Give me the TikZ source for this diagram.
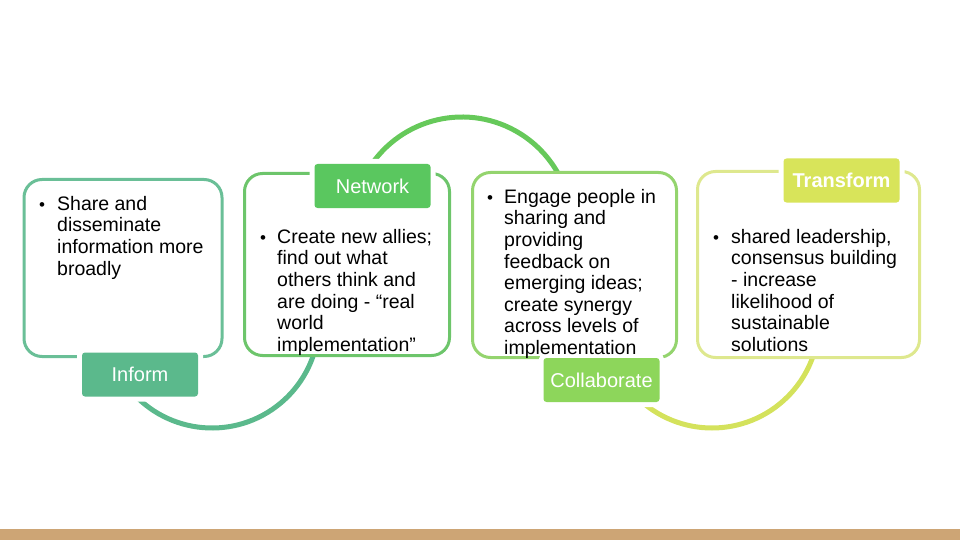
\documentclass[tikz,border=0pt]{standalone}
\usepackage{fontspec}
\setmainfont{Liberation Sans}
\definecolor{cA}{HTML}{5BB98C}
\definecolor{cAb}{HTML}{6ABF97}
\definecolor{cB}{HTML}{5AC75F}
\definecolor{cBb}{HTML}{6DC56B}
\definecolor{cBarc}{HTML}{66C95A}
\definecolor{cC}{HTML}{8DD65B}
\definecolor{cCb}{HTML}{94D46E}
\definecolor{cCarc}{HTML}{D4E25C}
\definecolor{cD}{HTML}{D8E45A}
\definecolor{cDb}{HTML}{DEE88E}
\definecolor{barcol}{HTML}{CDA575}
\tikzset{
  panel/.style={draw=#1, line width=3pt, fill=white, rounded corners=18pt, inner sep=0pt},
  lab/.style={fill=#1, rounded corners=3pt, minimum width=116pt, minimum height=44pt,
    inner sep=0pt, text=white, font=\fontsize{20}{24}\selectfont,
    preaction={draw=white, line width=10pt}},
  arcline/.style={draw=#1, line width=5pt},
  bodytext/.style={anchor=north west, inner sep=0pt, align=left, text=black,
    font=\fontsize{19.5}{21.6}\selectfont},
  bul/.style={anchor=base, inner sep=0pt, text=black, font=\fontsize{17}{21.6}\selectfont}
}
\begin{document}
\begin{tikzpicture}[x=1pt,y=-1pt]
\useasboundingbox (0,0) rectangle (960,540);
% bottom bar
\fill[barcol] (0,529) rectangle (960,540);
% arcs (drawn first, boxes hide their ends)
\coordinate (o1) at (212,321);
\coordinate (o2) at (462,227);
\coordinate (o3) at (712,321);
\draw[arcline=cA] ([shift={(140:107)}]o1) arc[start angle=140, end angle=15, radius=107];
\draw[arcline=cBarc] ([shift={(-148:110)}]o2) arc[start angle=-148, end angle=-25, radius=110];
\draw[arcline=cCarc] ([shift={(135:107)}]o3) arc[start angle=135, end angle=15, radius=107];
% panels
\node[panel=cAb, minimum width=198pt, minimum height=177pt] (b1) at (123,268) {};
\node[panel=cBb, minimum width=205pt, minimum height=182pt] (b2) at (347,264.5) {};
\node[panel=cCb, minimum width=204pt, minimum height=185pt] (b3) at (574.5,265) {};
\node[panel=cDb, minimum width=222pt, minimum height=186pt] (b4) at (808.5,264.5) {};
% labels
\node[lab=cA] (l1) at (140,374.5) {Inform};
\node[lab=cB] (l2) at (372.5,186) {Network};
\node[lab=cC] (l3) at (601.5,380) {Collaborate};
\node[lab=cD, font=\fontsize{20}{24}\selectfont\bfseries] (l4) at (841.5,180.5) {Transform};
% texts
\node[bul] (u1) at (42,210) {•};
\node[bodytext] (t1) at (57,194.9) {\strut Share and\\disseminate\\information more\\broadly};
\node[bul] (u2) at (263,243) {•};
\node[bodytext] (t2) at (277,227.9) {\strut Create new allies;\\find out what\\others think and\\are doing - “real\\world\\implementation”};
\node[bul] (u3) at (490,203) {•};
\node[bodytext] (t3) at (504,187.9) {\strut Engage people in\\sharing and\\providing\\feedback on\\emerging ideas;\\create synergy\\across levels of\\implementation};
\node[bul] (u4) at (716,243) {•};
\node[bodytext] (t4) at (731,227.9) {\strut shared leadership,\\consensus building\\- increase\\likelihood of\\sustainable\\solutions};
\end{tikzpicture}
\end{document}
